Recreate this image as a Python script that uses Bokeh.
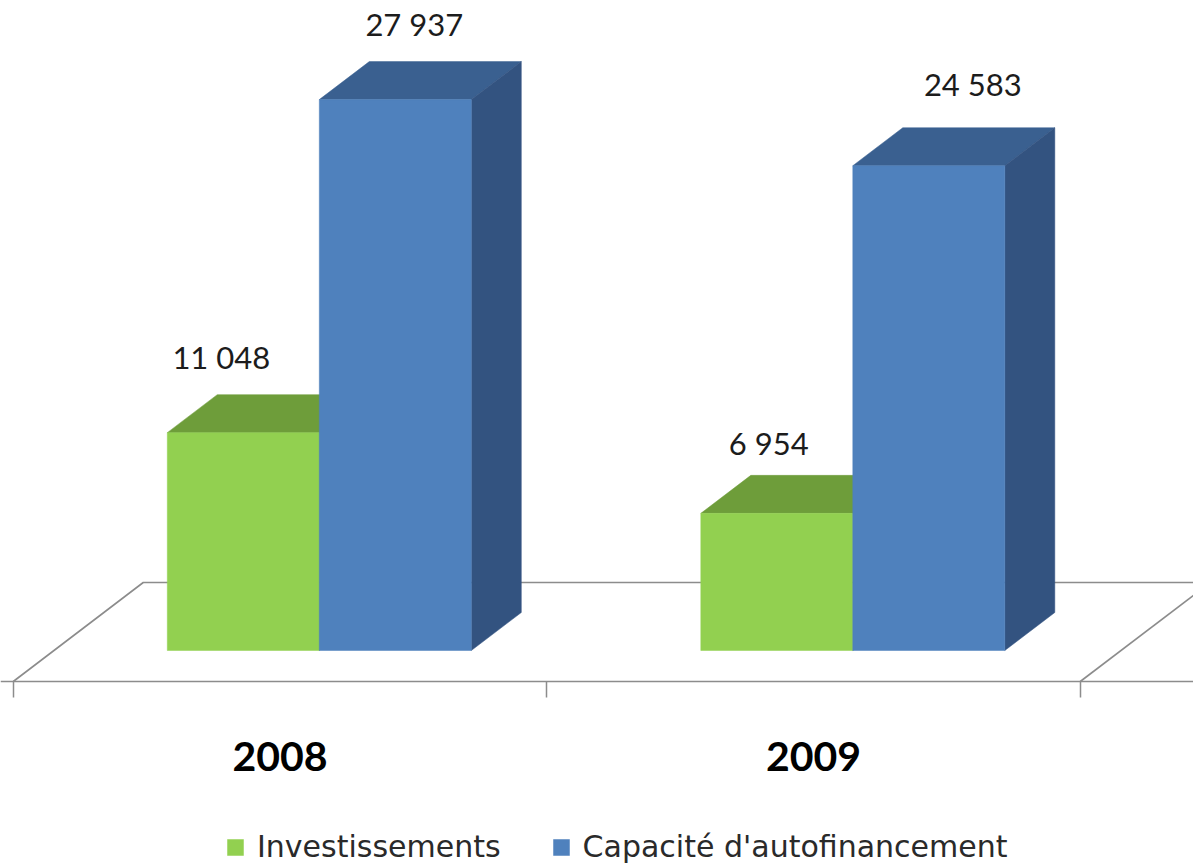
from bokeh.plotting import figure
from bokeh.models import LinearAxis, FixedTicker, Legend, LegendItem, ColumnDataSource, Range1d
from bokeh.core.properties import value
from bokeh.embed import file_html
from bokeh.resources import INLINE

years = ["2008", "2009"]
series_names = ["Investissements", "Capacité d'autofinancement"]
investissements = [11048, 6954]
capacite = [27937, 24583]
labels_inv = ["11 048", "6 954"]
labels_cap = ["27 937", "24 583"]

W, H = 1193, 867
PX_X = 533.5          # pixels per category
PX_Y = 0.01972        # pixels per value unit
x_range = Range1d((0 - 279.5) / PX_X, (W - 279.5) / PX_X)
y_range = Range1d(-(H - 650) / PX_Y, 650 / PX_Y)

DX, DY = 50 / PX_X, 38 / PX_Y       # 3D depth
BAR_W = 152 / PX_X
SHIFT = 39.3 / PX_X                 # bars sit in the middle of the floor's depth

p = figure(width=W, height=H, x_range=x_range, y_range=y_range, x_axis_type=None, y_axis_type=None,
           toolbar_location=None, output_backend="svg", min_border=0,
           background_fill_color="white", border_fill_color="white", outline_line_color=None)
p.grid.visible = False

GREY = "#8c8c8c"
# floor
fl = -31 / PX_Y
bl = 68 / PX_Y
fd = 130 / PX_X
p.line([-0.5, -0.5 + fd, 1.8], [fl, bl, bl], line_color=GREY, line_width=1.6)
p.line([1.5, 1.5 + fd], [fl, bl], line_color=GREY, line_width=1.6)

xs = [i + SHIFT for i in range(len(years))]


def bars(values, left_offset, front, top_col, side_col):
    lefts = [x + left_offset for x in xs]
    rights = [l + BAR_W for l in lefts]
    p.patches([[l, l + DX, r + DX, r] for l, r in zip(lefts, rights)],
              [[v, v + DY, v + DY, v] for v in values],
              fill_color=top_col, line_color=top_col, line_width=0.5)
    p.patches([[r, r + DX, r + DX, r] for r in rights],
              [[0, DY, v + DY, v] for v, r in zip(values, rights)],
              fill_color=side_col, line_color=side_col, line_width=0.5)
    return p.vbar(x=[l + BAR_W / 2 for l in lefts], top=values, bottom=0, width=BAR_W,
                  fill_color=front, line_color=front, line_width=0.5)


r1 = bars(investissements, -BAR_W, "#92D050", "#6E9D3A", "#6E9D3A")
r2 = bars(capacite, 0, "#4F81BD", "#3A6090", "#335380")

# value labels (hand placed in the source, hence the individual nudges)
src = ColumnDataSource(dict(
    x=[x - BAR_W / 2 for x in xs] + [x + BAR_W / 2 for x in xs],
    y=investissements + capacite,
    t=labels_inv + labels_cap,
    dx=[-22, -8, 19, 44],
    dy=[-76, -70, -76, -82],
))
p.text(x="x", y="y", text="t", x_offset="dx", y_offset="dy", source=src, text_align="center",
       text_baseline="middle", text_font=value("Lato"), text_font_size="31px", text_color="#1c1c1c")

# axes
sep = LinearAxis(ticker=FixedTicker(ticks=[-0.5, 0.5, 1.5]), axis_line_color=GREY, axis_line_width=1.6,
                 major_tick_line_color=GREY, major_tick_line_width=1.5, major_tick_out=16, major_tick_in=0,
                 minor_tick_line_color=None, major_label_overrides={-0.5: "", 0.5: "", 1.5: ""},
                 major_label_standoff=0, fixed_location=fl)
p.add_layout(sep, "below")
cat = LinearAxis(ticker=FixedTicker(ticks=list(range(len(years)))), axis_line_color=None, major_tick_line_color=None,
                 minor_tick_line_color=None, major_label_overrides={i: y for i, y in enumerate(years)},
                 major_label_text_font="Lato", major_label_text_font_style="bold",
                 major_label_text_font_size="41px", major_label_text_color="#000000", major_label_standoff=54,
                 fixed_location=fl)
p.add_layout(cat, "below")

legend = Legend(items=[LegendItem(label=series_names[0], renderers=[r1]),
                       LegendItem(label=series_names[1], renderers=[r2])],
                orientation="horizontal", location=(225, 3), padding=0, margin=0, border_line_color=None,
                background_fill_color=None, background_fill_alpha=0, glyph_width=20, glyph_height=20,
                label_standoff=12, spacing=50, label_text_font="DejaVu Sans", label_text_font_size="30px",
                label_text_color="#2a2a2a")
p.add_layout(legend, "center")

open("out.html", "w").write(file_html(p, INLINE))
